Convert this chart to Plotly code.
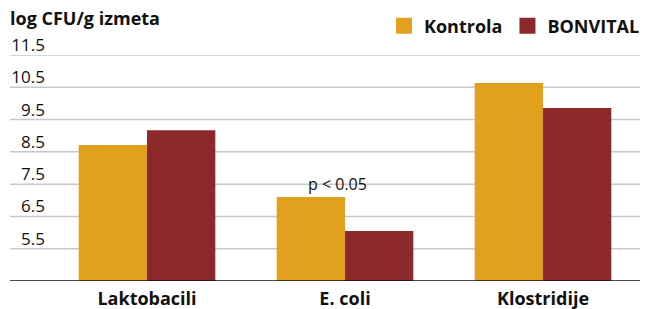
import plotly.graph_objects as go

categories = ["Laktobacili", "E. coli", "Klostridije"]
kontrola = [8.71, 7.1, 10.63]
bonvital = [9.17, 6.05, 9.86]
y_ticks = [5.5, 6.5, 7.5, 8.5, 9.5, 10.5, 11.5]
y_base = 4.5
series_names = ["Kontrola", "BONVITAL"]
colors = ["#E2A11D", "#8C292B"]

FONT = "Open Sans"

fig = go.Figure()
for name, vals, col in zip(series_names, [kontrola, bonvital], colors):
    fig.add_trace(go.Bar(x=categories, y=[v - y_base for v in vals], base=y_base,
                         name=name, marker=dict(color=col, line=dict(width=0)),
                         showlegend=False, hoverinfo="skip"))
    fig.add_trace(go.Scatter(x=[None], y=[None], mode="markers", name="<b>" + name + "</b>",
                             marker=dict(symbol="square", size=18, color=col)))

shapes = []
gx0 = (10 - 48) / 594
for t in y_ticks:
    shapes.append(dict(type="line", xref="paper", yref="y", x0=gx0, x1=0.9966,
                       y0=t, y1=t, line=dict(color="#C8C8C8", width=1.5), layer="below"))
shapes.append(dict(type="line", xref="paper", yref="y", x0=gx0, x1=0.9966,
                   y0=y_base, y1=y_base, line=dict(color="#111111", width=1.5), layer="above"))

fig.update_layout(
    width=645, height=309,
    margin=dict(l=48, r=3, t=55, b=28, autoexpand=False),
    paper_bgcolor="white", plot_bgcolor="white",
    barmode="group", bargap=0.31, bargroupgap=0,
    font=dict(family=FONT, color="#111111"),
    title=dict(text="<b>log CFU/g izmeta</b>", x=10 / 645, xanchor="left", xref="container",
               y=1 - 12 / 309, yanchor="top", yref="container", pad=dict(l=0, t=0),
               font=dict(size=18, family=FONT, color="#111111")),
    legend=dict(orientation="h", x=1, xanchor="right", xref="container",
                y=1 - 26 / 309, yanchor="middle", yref="container",
                font=dict(size=18, family=FONT, color="#111111"),
                bgcolor="rgba(0,0,0,0)", itemwidth=30, tracegroupgap=0),
    shapes=shapes,
    xaxis=dict(showgrid=False, showline=False, zeroline=False, ticks="", ticklen=0,
               automargin=False, ticklabelstandoff=5,
               tickfont=dict(size=18, family=FONT, color="#111111"),
               tickprefix="<b>", ticksuffix="</b>"),
    yaxis=dict(range=[y_base, 11.5], showgrid=False, zeroline=False, showline=False,
               automargin=False,
               tickvals=y_ticks, ticktext=[str(t) for t in y_ticks], ticks="", ticklen=0,
               ticklabelshift=-10, ticklabelstandoff=2,
               tickfont=dict(size=17, family=FONT, color="#111111")),
)

fig.add_annotation(x=categories[1], y=kontrola[1], xref="x", yref="y",
                   text="p < 0.05", showarrow=False, xshift=-8, yanchor="bottom", yshift=0,
                   font=dict(size=16, family=FONT, color="#111111"))

fig.write_html("out.html", config={"displayModeBar": False},
               post_script="document.body.style.margin='0';")
